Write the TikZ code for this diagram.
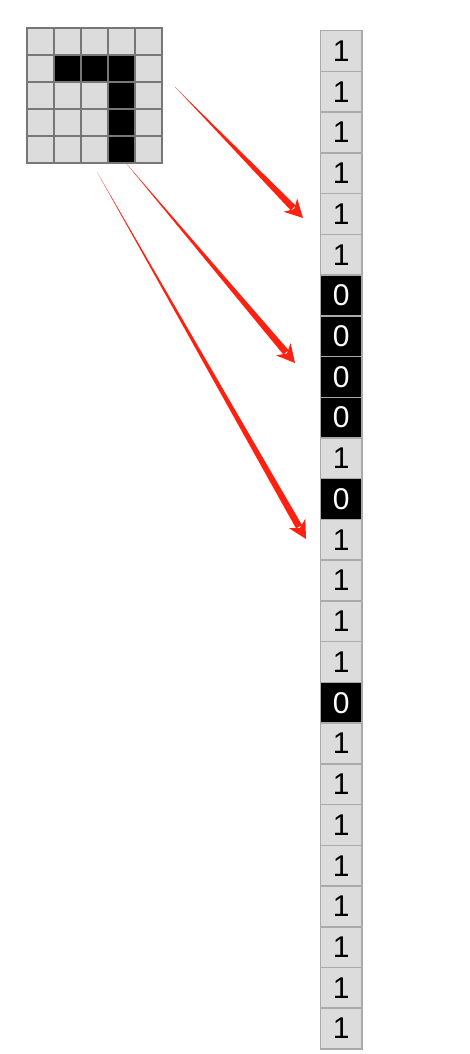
\documentclass[tikz,border=0pt]{standalone}
\usepackage{fontspec}
\setmainfont{Liberation Sans}
\usetikzlibrary{calc}
\definecolor{cellgray}{HTML}{DCDCDC}
\definecolor{gridline}{HTML}{777777}
\definecolor{colline}{HTML}{AAAAAA}
\definecolor{arrowred}{HTML}{FF2010}
\newcommand{\taperarrow}[2]{%
  \fill[arrowred] (#1) -- ($($(#2)!14pt!(#1)$)!3.4pt!90:(#2)$) -- ($($(#2)!14pt!(#1)$)!3.4pt!-90:(#2)$) -- cycle;
  \fill[arrowred] (#2) -- ($($(#2)!18pt!(#1)$)!9.5pt!90:(#2)$) -- ($(#2)!12.5pt!(#1)$) -- ($($(#2)!18pt!(#1)$)!9.5pt!-90:(#2)$) -- cycle;
}
\begin{document}
\begin{tikzpicture}[x=1pt,y=-1pt,
  gcell/.style={draw=gridline, line width=2pt, fill=cellgray, minimum size=27pt, inner sep=0pt},
  colcell/.style={draw=colline, line width=1.5pt, minimum width=41.5pt, minimum height=40.73pt, inner sep=0pt,
    font=\fontsize{30}{30}\selectfont}]
\useasboundingbox (0,0) rectangle (469,1054);
% 5x5 grid
\foreach \r in {0,...,4}{
  \foreach \c in {0,...,4}{
    \node[gcell] (g-\r-\c) at ({40.5+27*\c},{41.5+27*\r}) {};
  }
}
\foreach \r/\c in {1/1,1/2,1/3,2/3,3/3,4/3}{
  \node[gcell, fill=black] (k-\r-\c) at ({40.5+27*\c},{41.5+27*\r}) {};
}
% column vector
\foreach \b [count=\i from 0] in {1,1,1,1,1,1,0,0,0,0,1,0,1,1,1,1,0,1,1,1,1,1,1,1,1}{
  \ifnum\b=0 \def\fc{black}\def\tc{white}\else\def\fc{cellgray}\def\tc{black}\fi
  \node[colcell, fill=\fc, text=\tc] (v-\i) at (341.25,{51.07+40.73*\i}) {\b};
}
% arrows
\coordinate (a1s) at (175,87);  \coordinate (a1t) at (303,218);
\coordinate (a2s) at (125,162); \coordinate (a2t) at (295,363);
\coordinate (a3s) at (97,172);  \coordinate (a3t) at (306,539);
\taperarrow{a1s}{a1t}
\taperarrow{a2s}{a2t}
\taperarrow{a3s}{a3t}
\end{tikzpicture}
\end{document}
